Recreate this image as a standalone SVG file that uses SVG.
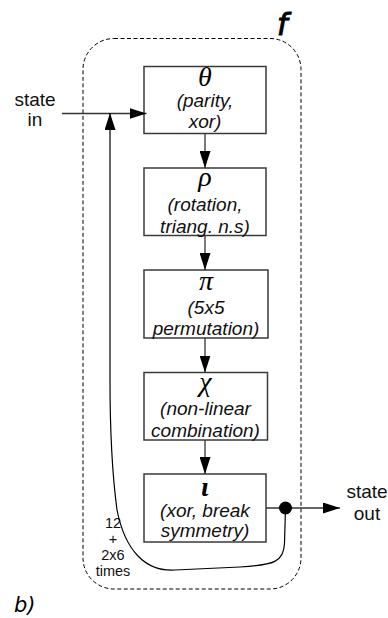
<svg xmlns="http://www.w3.org/2000/svg" width="388" height="618" viewBox="0 0 388 618">
  <style>
    .frame { fill: none; stroke: #000; stroke-width: 1; stroke-dasharray: 4 2.5; }
    .step { fill: #fff; stroke: #3a3a3a; stroke-width: 1.5; }
    .greek { font-family: "Liberation Serif", "DejaVu Serif", serif; font-style: italic; font-size: 28px; fill: #000; text-anchor: middle; }
    .desc { font-family: "Liberation Sans", Arial, sans-serif; font-style: italic; font-size: 19px; fill: #111; text-anchor: middle; }
    .io { font-family: "Liberation Sans", Arial, sans-serif; font-size: 19px; fill: #111; text-anchor: middle; }
    .count { font-family: "Liberation Sans", Arial, sans-serif; font-size: 14.5px; fill: #111; text-anchor: middle; }
    .title { font-family: "DejaVu Sans", sans-serif; font-style: italic; fill: #000; }
    .wire { fill: none; stroke: #333; stroke-width: 1.3; }
    .loop { fill: none; stroke: #000; stroke-width: 1.2; }
  </style>
  <defs>
    <marker id="head" markerUnits="userSpaceOnUse" viewBox="0 0 17 11" refX="17" refY="5.5" markerWidth="17" markerHeight="11" orient="auto">
      <path d="M0,0 L17,5.5 L0,11 z" fill="#000"/>
    </marker>
  </defs>

  <!-- permutation function boundary -->
  <rect class="frame" x="83" y="38.5" width="218" height="550.5" rx="31" ry="31"/>
  <text class="title" x="277" y="35" font-size="30" stroke="#000" stroke-width="0.9">f</text>

  <!-- round steps -->
  <g id="theta">
    <rect class="step" x="144" y="66.5" width="122" height="67"/>
    <text class="greek" x="205" y="86">θ</text>
    <text class="desc" x="205" y="106.5">(parity,</text>
    <text class="desc" x="205" y="128">xor)</text>
  </g>
  <g id="rho">
    <rect class="step" x="144" y="168" width="122" height="67.5"/>
    <text class="greek" x="205" y="186">ρ</text>
    <text class="desc" x="205" y="211">(rotation,</text>
    <text class="desc" x="205" y="233">triang. n.s)</text>
  </g>
  <g id="pi">
    <rect class="step" x="144" y="270" width="124" height="68"/>
    <text class="greek" x="206" y="290">π</text>
    <text class="desc" x="206" y="314">(5x5</text>
    <text class="desc" x="206" y="335">permutation)</text>
  </g>
  <g id="chi">
    <rect class="step" x="144" y="372.5" width="123.5" height="67.5"/>
    <text class="greek" x="205.5" y="391">χ</text>
    <text class="desc" x="205.5" y="415">(non-linear</text>
    <text class="desc" x="205.5" y="437">combination)</text>
  </g>
  <g id="iota">
    <rect class="step" x="144" y="474" width="122" height="68"/>
    <text class="greek" x="205" y="496" font-weight="bold">ι</text>
    <text class="desc" x="205" y="517">(xor, break</text>
    <text class="desc" x="205" y="537">symmetry)</text>
  </g>

  <!-- external labels -->
  <g id="state-in">
    <text class="io" x="35" y="106">state</text>
    <text class="io" x="35" y="126">in</text>
  </g>
  <g id="state-out">
    <text class="io" x="367" y="498">state</text>
    <text class="io" x="367" y="520">out</text>
  </g>
  <g id="rounds">
    <text class="count" x="113" y="528">12</text>
    <text class="count" x="113" y="544">+</text>
    <text class="count" x="113" y="560">2x6</text>
    <text class="count" x="113" y="576">times</text>
  </g>
  <text class="title" x="14" y="612" font-size="21">b)</text>

  <!-- connectors -->
  <g id="connectors">
    <line class="wire" x1="62" y1="113.5" x2="146.5" y2="113.5" marker-end="url(#head)"/>
    <line class="wire" x1="205" y1="133.5" x2="205" y2="168" marker-end="url(#head)"/>
    <line class="wire" x1="205" y1="235.5" x2="205" y2="270" marker-end="url(#head)"/>
    <line class="wire" x1="205" y1="338" x2="205" y2="372.5" marker-end="url(#head)"/>
    <line class="wire" x1="205" y1="440" x2="205" y2="474" marker-end="url(#head)"/>
    <line class="wire" x1="266" y1="508" x2="340" y2="508" marker-end="url(#head)"/>
    <path class="loop" d="M285.5,508 L284.5,543 C284,562 274,565 240,567 L175,570 C145,572 125,550 117,510 C113,480 110,430 110,380 L110,113" marker-end="url(#head)"/>
    <circle cx="285.5" cy="508" r="6.5" fill="#000"/>
  </g>
</svg>
